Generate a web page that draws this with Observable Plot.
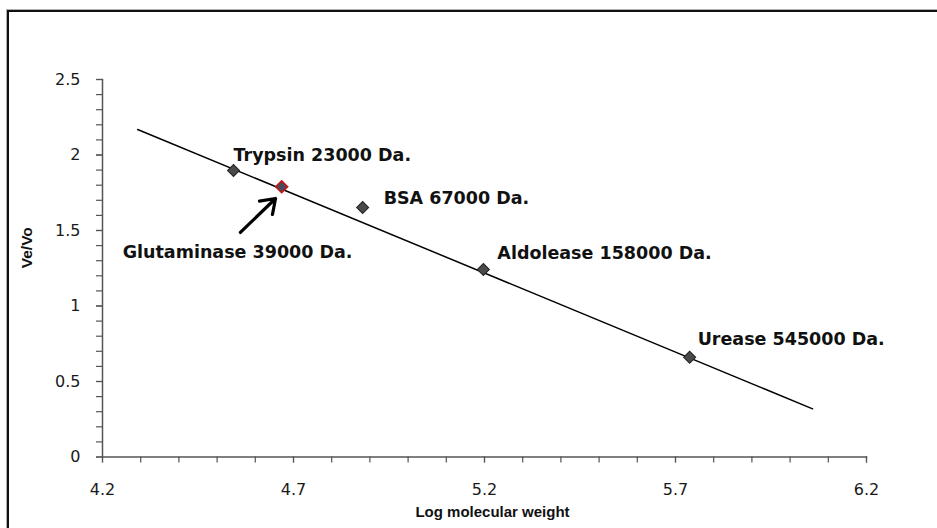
<!DOCTYPE html>
<html>
<head>
<meta charset="utf-8">
<script src="https://cdn.jsdelivr.net/npm/d3@7"></script>
<script src="https://cdn.jsdelivr.net/npm/@observablehq/plot@0.6"></script>
<style>
  html, body { margin: 0; padding: 0; background: #fff; overflow: hidden; }
  #wrap { position: relative; width: 937px; height: 528px; overflow: hidden; }
  #border { position: absolute; left: 7px; top: 10px; width: 960px; height: 560px;
            border: 2px solid #111; outline: 1px solid #b0b0b0; }
  #chart { position: absolute; left: 0; top: 0; }
</style>
</head>
<body>
<div id="wrap"><div id="chart"></div><div id="border"></div></div>
<script>
// ---- data ----
const proteins = ["Trypsin 23000 Da.", "Glutaminase 39000 Da.", "BSA 67000 Da.", "Aldolease 158000 Da.", "Urease 545000 Da."];
const logMW   = [4.543, 4.669, 4.881, 5.197, 5.737];
const veVo    = [1.897, 1.790, 1.652, 1.242, 0.661];
const trendX  = [4.292, 6.059];
const trendY  = [2.169, 0.319];
const arrowFrom = [4.561, 1.487];
const arrowTo   = [4.653, 1.712];
const xTicks = [4.2, 4.7, 5.2, 5.7, 6.2];
const yTicks = [0, 0.5, 1, 1.5, 2, 2.5];
const xMinor = d3.range(4.2, 6.2001, 0.1).map(v => +v.toFixed(2));
const yMinor = d3.range(0, 2.5001, 0.1).map(v => +v.toFixed(2));

// ---- styling / label placement ----
const labelOffset = {
  "Trypsin 23000 Da.": [0, -15],
  "Glutaminase 39000 Da.": [-159, 66],
  "BSA 67000 Da.": [21, -9],
  "Aldolease 158000 Da.": [14, -16],
  "Urease 545000 Da.": [8, -18]
};
const highlight = "Glutaminase 39000 Da.";
const idx = d3.range(proteins.length);
const trend = trendX.map((x, i) => ({x, y: trendY[i]}));

const axisColor = "#555";
const tickFont = "DejaVu Sans, sans-serif";

const chart = Plot.plot({
  width: 937,
  height: 528,
  marginLeft: 102,
  marginRight: 71,
  marginTop: 79,
  marginBottom: 71.5,
  style: {background: "transparent", fontFamily: tickFont},
  x: {domain: [4.2, 6.2], axis: null},
  y: {domain: [0, 2.5], axis: null},
  marks: [
    // minor ticks
    Plot.axisX(xMinor, {tickSize: 6, tickFormat: () => "", stroke: axisColor, strokeWidth: 1.2, label: null}),
    Plot.axisY(yMinor, {tickSize: 6, tickFormat: () => "", stroke: axisColor, strokeWidth: 1.2, label: null}),
    // major ticks with labels
    Plot.axisX(xTicks, {tickSize: 6, tickPadding: 21, tickFormat: d => d.toFixed(1),
      fontSize: 16, fill: "#1a1a1a", stroke: axisColor, strokeWidth: 1.2, label: null}),
    Plot.axisY(yTicks, {tickSize: 6, tickPadding: 16, tickFormat: d => String(d),
      fontSize: 16, fill: "#1a1a1a", stroke: axisColor, strokeWidth: 1.2, label: null}),
    // axis lines
    Plot.frame({anchor: "bottom", stroke: axisColor, strokeWidth: 1.5}),
    Plot.frame({anchor: "left", stroke: axisColor, strokeWidth: 1.5}),
    // trend line
    Plot.line(trend, {x: "x", y: "y", stroke: "#000", strokeWidth: 1.5}),
    // points
    Plot.dot(idx.filter(i => proteins[i] !== highlight), {
      x: i => logMW[i], y: i => veVo[i], symbol: "square", rotate: 45, r: 4.8,
      fill: "#4a4a4a", stroke: "#222", strokeWidth: 1
    }),
    Plot.dot(idx.filter(i => proteins[i] === highlight), {
      x: i => logMW[i], y: i => veVo[i], symbol: "square", rotate: 45, r: 4.8,
      fill: "#4a4a5a", stroke: "#d01010", strokeWidth: 1.5
    }),
    // arrow
    Plot.arrow([0], {
      x1: () => arrowFrom[0], y1: () => arrowFrom[1],
      x2: () => arrowTo[0], y2: () => arrowTo[1],
      stroke: "#000", strokeWidth: 3.2, headLength: 10, headAngle: 70
    }),
    // point labels
    ...idx.map(i => Plot.text([i], {
      x: j => logMW[j], y: j => veVo[j], text: j => proteins[j],
      textAnchor: "start", dx: labelOffset[proteins[i]][0], dy: labelOffset[proteins[i]][1],
      fontSize: 17.5, fontWeight: "bold", fill: "#111",
      fontFamily: "DejaVu Sans, Verdana, sans-serif"
    })),
    // axis titles
    Plot.text(["Ve/Vo"], {frameAnchor: "left", rotate: -90, dx: -75, text: d => d,
      fontSize: 15.5, fontWeight: "bold", fill: "#111", fontFamily: "Liberation Sans, Arial, sans-serif"}),
    Plot.text(["Log molecular weight"], {frameAnchor: "bottom", dy: 60, dx: 8, text: d => d,
      fontSize: 15, fontWeight: "bold", fill: "#111", fontFamily: "Liberation Sans, Arial, sans-serif"})
  ]
});
document.getElementById("chart").appendChild(chart);
</script>
</body>
</html>
